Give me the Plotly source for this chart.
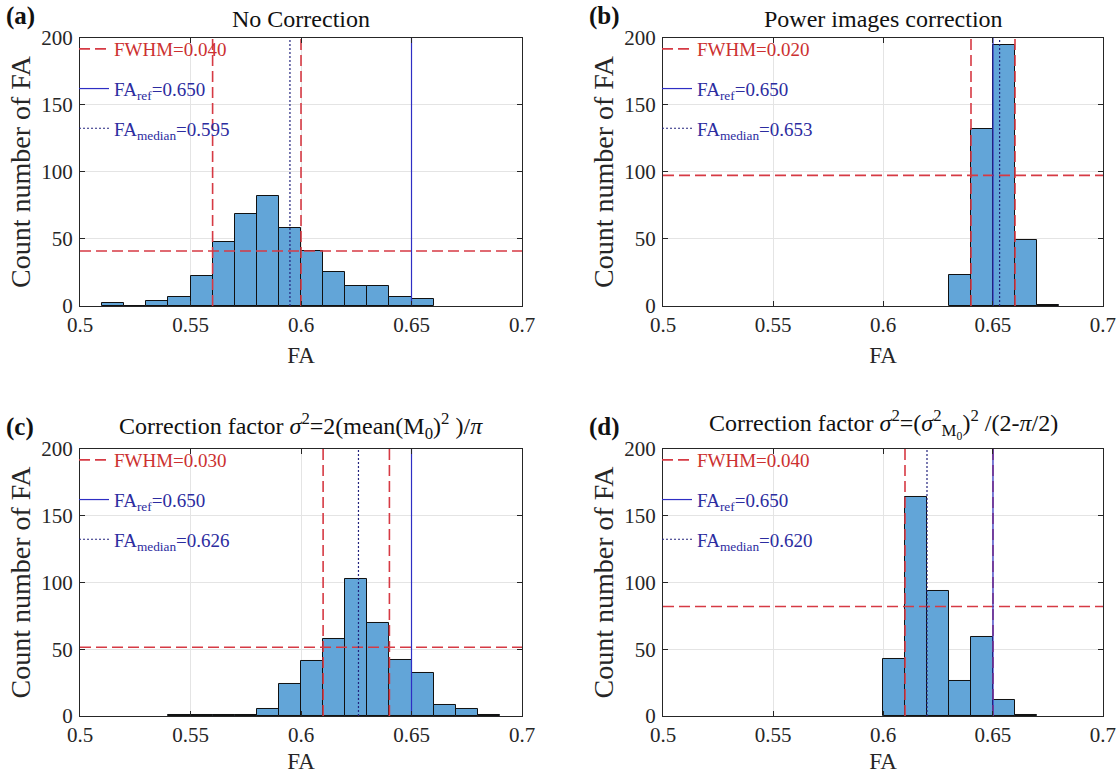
import plotly.graph_objects as go

# Histogram bins (left edges) and counts for each correction method
bins_a = [0.51, 0.52, 0.53, 0.54, 0.55, 0.56, 0.57, 0.58, 0.59, 0.60, 0.61, 0.62, 0.63, 0.64, 0.65]
counts_a = [2, 0, 4, 7, 22, 48, 69, 82, 58, 41, 25, 15, 15, 7, 5]

bins_b = [0.63, 0.64, 0.65, 0.66, 0.67]
counts_b = [23, 132, 195, 49, 1]

bins_c = [0.54, 0.55, 0.56, 0.57, 0.58, 0.59, 0.60, 0.61, 0.62, 0.63, 0.64, 0.65, 0.66, 0.67, 0.68]
counts_c = [1, 1, 1, 1, 5, 24, 41, 58, 103, 70, 42, 32, 8, 5, 1]

bins_d = [0.60, 0.61, 0.62, 0.63, 0.64, 0.65, 0.66]
counts_d = [43, 164, 94, 26, 59, 12, 1]

# Half-maximum crossing points, reference FA and median FA per panel
fwhm_left = [0.56, 0.64, 0.61, 0.61]
fwhm_right = [0.60, 0.66, 0.64, 0.65]
fa_ref = [0.650, 0.650, 0.650, 0.650]
fa_median = [0.595, 0.653, 0.626, 0.620]

panel_tags = ["(a)", "(b)", "(c)", "(d)"]
panel_titles = [
    "No Correction",
    "Power images correction",
    "Correction factor <i>σ</i><sup>2</sup>=2(mean(M<sub>0</sub>)<sup>2</sup> )/<i>π</i>",
    "Correction factor <i>σ</i><sup>2</sup>=(<i>σ</i><sup>2</sup><sub>M<sub>0</sub></sub>)<sup>2</sup> /(2-<i>π</i>/2)",
]

x_ticks = [0.5, 0.55, 0.6, 0.65, 0.7]
x_tick_text = ["0.5", "0.55", "0.6", "0.65", "0.7"]
y_ticks = [0, 50, 100, 150, 200]

BIN_W = 0.01
X_MIN, X_MAX = 0.5, 0.7
Y_MAX = 200

FONT = "Liberation Serif"
BAR_FILL = "#62a5d8"
RED = "#d63a44"
RED_TEXT = "#cc3030"
BLUE = "#2e2ec4"
NAVY = "#23237e"
TEXT_BLUE = "#2c2ca0"
AX = "#262626"

W, H = 1119, 774
x_domains = [[0.0715, 0.4665], [0.5925, 0.9857], [0.0715, 0.4665], [0.5925, 0.9857]]
y_domains = [[0.6047, 0.9509], [0.6047, 0.9509], [0.0749, 0.4199], [0.0749, 0.4199]]

all_bins = [bins_a, bins_b, bins_c, bins_d]
all_counts = [counts_a, counts_b, counts_c, counts_d]

fig = go.Figure()
layout = {}
annotations = []

for i in range(4):
    n = "" if i == 0 else str(i + 1)
    xref, yref = "x" + n, "y" + n
    leg = "legend" + n
    bins, counts = all_bins[i], all_counts[i]
    half = max(counts) / 2.0

    fig.add_trace(go.Bar(
        x=bins, y=counts, width=BIN_W, offset=0,
        marker=dict(color=BAR_FILL, line=dict(color="#111111", width=1)),
        xaxis=xref, yaxis=yref, showlegend=False, hoverinfo="x+y",
    ))

    # FWHM: two vertical cuts and the half-maximum level
    fwhm = fwhm_right[i] - fwhm_left[i]
    fig.add_trace(go.Scatter(
        x=[fwhm_left[i], fwhm_left[i], None, fwhm_right[i], fwhm_right[i], None, X_MIN, X_MAX],
        y=[0, Y_MAX, None, 0, Y_MAX, None, half, half],
        mode="lines", line=dict(color=RED, width=1.6, dash="11px,5px"),
        name=f"<span style='color:{RED_TEXT}'>FWHM={fwhm:.3f}</span>",
        xaxis=xref, yaxis=yref, legend=leg, legendgroup=f"f{i}",
    ))
    fig.add_trace(go.Scatter(
        x=[fa_ref[i], fa_ref[i]], y=[0, Y_MAX],
        mode="lines", line=dict(color=BLUE, width=1.2),
        name=f"FA<sub>ref</sub>={fa_ref[i]:.3f}",
        xaxis=xref, yaxis=yref, legend=leg, legendgroup=f"r{i}",
    ))
    fig.add_trace(go.Scatter(
        x=[fa_median[i], fa_median[i]], y=[0, Y_MAX],
        mode="lines", line=dict(color=NAVY, width=1.2, dash="2px,2px"),
        name=f"FA<sub>median</sub>={fa_median[i]:.3f}",
        xaxis=xref, yaxis=yref, legend=leg, legendgroup=f"m{i}",
    ))

    layout["xaxis" + n] = dict(
        domain=x_domains[i], anchor=yref, range=[X_MIN, X_MAX], automargin=False,
        tickvals=x_ticks, ticktext=x_tick_text,
        showgrid=True, gridcolor="#e4e4e4", gridwidth=1,
        showline=True, linecolor=AX, linewidth=1, mirror="ticks",
        ticks="inside", ticklen=5, tickcolor=AX, zeroline=False,
        tickfont=dict(family=FONT, size=21, color=AX),
        title=dict(text="FA", font=dict(family=FONT, size=23, color=AX), standoff=10),
    )
    layout["yaxis" + n] = dict(
        domain=y_domains[i], anchor=xref, range=[0, Y_MAX], automargin=False,
        tickvals=y_ticks, ticklabelstandoff=2,
        showgrid=True, gridcolor="#e4e4e4", gridwidth=1,
        showline=True, linecolor=AX, linewidth=1, mirror="ticks",
        ticks="inside", ticklen=5, tickcolor=AX, zeroline=False,
        tickfont=dict(family=FONT, size=21, color=AX),
        title=dict(text="Count number of FA", font=dict(family=FONT, size=28, color=AX), standoff=2),
    )
    layout[leg] = dict(
        x=x_domains[i][0] - 6 / W, y=y_domains[i][1] + 8 / H,
        xanchor="left", yanchor="top", xref="paper", yref="paper",
        bgcolor="rgba(0,0,0,0)", borderwidth=0,
        font=dict(family=FONT, size=19, color=TEXT_BLUE),
        traceorder="grouped", tracegroupgap=12, itemwidth=30,
    )

    xc = (x_domains[i][0] + x_domains[i][1]) / 2
    annotations.append(dict(
        text=panel_titles[i], x=xc, y=y_domains[i][1] + 4 / H,
        xref="paper", yref="paper", xanchor="center", yanchor="bottom",
        showarrow=False, font=dict(family=FONT, size=24, color="#111111"),
    ))
    annotations.append(dict(
        text="<b>" + panel_tags[i] + "</b>", x=x_domains[i][0] - 76 / W, y=y_domains[i][1] + 6 / H,
        xref="paper", yref="paper", xanchor="left", yanchor="bottom",
        showarrow=False, font=dict(family=FONT, size=25, color="#111111"),
    ))

fig.update_layout(
    width=W, height=H, autosize=False,
    margin=dict(l=0, r=0, t=0, b=0, autoexpand=False),
    paper_bgcolor="white", plot_bgcolor="white",
    bargap=0, barmode="overlay",
    annotations=annotations,
    **layout,
)

fig.write_html("out.html")
